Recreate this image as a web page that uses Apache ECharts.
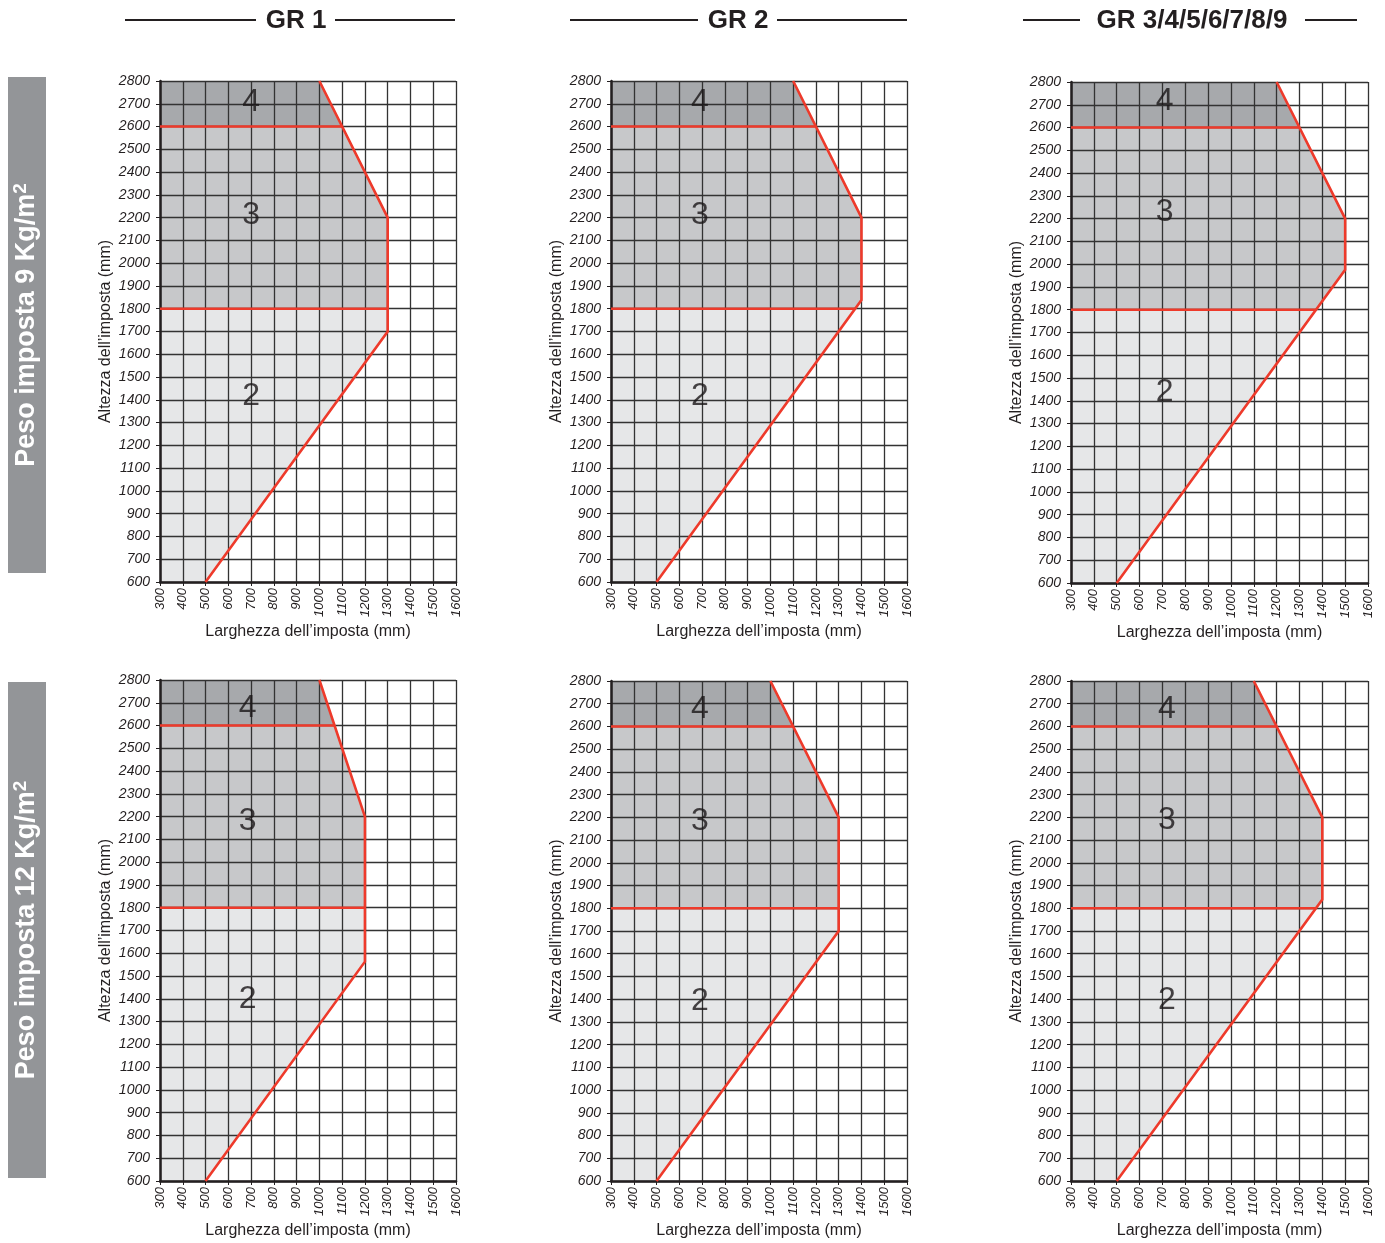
<!DOCTYPE html>
<html>
<head>
<meta charset="utf-8">
<script src="https://cdn.jsdelivr.net/npm/echarts@6/dist/echarts.min.js"></script>
<style>
  html, body { margin: 0; padding: 0; background: #fff; }
  #chart { width: 1385px; height: 1243px; }
</style>
</head>
<body>
<div id="chart"></div>
<script>
// --- testi ---
const groupTitles = ['GR 1', 'GR 2', 'GR 3/4/5/6/7/8/9'];
const rowTitles = ['Peso imposta 9 Kg/m', 'Peso imposta 12 Kg/m'];
const xName = 'Larghezza dell’imposta (mm)';
const yName = 'Altezza dell’imposta (mm)';

// --- assi ---
const xMin = 300, xMax = 1600;
const yMin = 600, yMax = 2800;
const tickStep = 100;
const bandLevels = [1800, 2600];   // limiti zona 2/3 e 3/4
const zoneNames = ['2', '3', '4'];

// --- bordo rosso di ogni grafico (larghezza, altezza in mm) ---
const edgeGr1At9  = [[500, 600], [1300, 1700], [1300, 2200], [1000, 2800]];
const edgeGr2At9  = [[500, 600], [1400, 1838], [1400, 2200], [1100, 2800]];
const edgeGr3At9  = [[500, 600], [1500, 1975], [1500, 2200], [1200, 2800]];
const edgeGr1At12 = [[500, 600], [1200, 1563], [1200, 2200], [1000, 2800]];
const edgeGr2At12 = [[500, 600], [1300, 1700], [1300, 2200], [1000, 2800]];
const edgeGr3At12 = [[500, 600], [1400, 1838], [1400, 2200], [1100, 2800]];

// larghezza dove le linee 1800 / 2600 toccano il bordo
const cutsGr1At9  = [1300, 1100];
const cutsGr2At9  = [1373, 1200];
const cutsGr3At9  = [1373, 1300];
const cutsGr1At12 = [1200, 1067];
const cutsGr2At12 = [1300, 1100];
const cutsGr3At12 = [1373, 1200];

// posizione delle etichette 2 / 3 / 4
const labelsGr1At9  = [[700, 1430], [700, 2225], [700, 2720]];
const labelsGr2At9  = [[690, 1430], [690, 2225], [690, 2720]];
const labelsGr3At9  = [[710, 1450], [710, 2240], [710, 2730]];
const labelsGr1At12 = [[685, 1410], [685, 2195], [685, 2690]];
const labelsGr2At12 = [[690, 1405], [690, 2195], [690, 2690]];
const labelsGr3At12 = [[720, 1410], [720, 2200], [720, 2690]];

const charts = [
  { edge: edgeGr1At9,  cuts: cutsGr1At9,  labels: labelsGr1At9,  box: [160, 81, 296, 501] },
  { edge: edgeGr2At9,  cuts: cutsGr2At9,  labels: labelsGr2At9,  box: [611, 81, 296, 501] },
  { edge: edgeGr3At9,  cuts: cutsGr3At9,  labels: labelsGr3At9,  box: [1071, 82, 297, 501] },
  { edge: edgeGr1At12, cuts: cutsGr1At12, labels: labelsGr1At12, box: [160, 680, 296, 501] },
  { edge: edgeGr2At12, cuts: cutsGr2At12, labels: labelsGr2At12, box: [611, 681, 296, 500] },
  { edge: edgeGr3At12, cuts: cutsGr3At12, labels: labelsGr3At12, box: [1071, 681, 297, 500] }
];

const zoneColors = ['#e6e7e8', '#c7c8ca', '#a7a9ac'];
const red = '#ee3a2b';
const ink = '#231f20';
const font = 'Liberation Sans, Arial, sans-serif';

const chart = echarts.init(document.getElementById('chart'), null, { renderer: 'canvas' });

const grid = [], xAxis = [], yAxis = [], series = [];
const plain = v => String(v);

charts.forEach((c, i) => {
  const [left, top, width, height] = c.box;
  grid.push({ left, top, width, height, containLabel: false });

  xAxis.push({
    type: 'value', gridIndex: i, min: xMin, max: xMax, interval: tickStep, z: 3,
    name: xName, nameLocation: 'middle', nameGap: 42,
    nameTextStyle: { fontFamily: font, fontSize: 16, color: ink },
    axisLine: { show: true, onZero: false, lineStyle: { color: ink, width: 2.5 } },
    axisTick: { show: true, length: 4, lineStyle: { color: ink } },
    axisLabel: { rotate: 90, margin: 6, formatter: plain, fontFamily: font, fontStyle: 'italic', fontSize: 13, color: ink },
    splitLine: { show: true, lineStyle: { color: '#333', width: 1.3 } }
  });

  yAxis.push({
    type: 'value', gridIndex: i, min: yMin, max: yMax, interval: tickStep, z: 3,
    name: yName, nameLocation: 'middle', nameGap: 46,
    nameTextStyle: { fontFamily: font, fontSize: 16, color: ink },
    axisLine: { show: true, onZero: false, lineStyle: { color: ink, width: 2.5 } },
    axisTick: { show: true, length: 4, lineStyle: { color: ink } },
    axisLabel: { margin: 10, formatter: plain, fontFamily: font, fontStyle: 'italic', fontSize: 14, color: ink },
    splitLine: { show: true, lineStyle: { color: '#333', width: 1.3 } }
  });

  // zone a partire dal bordo
  const [cutLow, cutHigh] = c.cuts;
  const [low, high] = bandLevels;
  const zones = [
    [[xMin, yMin], ...c.edge.filter(p => p[1] < low), [cutLow, low], [xMin, low]],
    [[xMin, low], [cutLow, low], ...c.edge.filter(p => p[1] > low && p[1] < high), [cutHigh, high], [xMin, high]],
    [[xMin, high], [cutHigh, high], ...c.edge.filter(p => p[1] > high), [xMin, yMax]]
  ];

  zones.forEach((pts, k) => {
    series.push({
      type: 'custom', xAxisIndex: i, yAxisIndex: i, z: 1, silent: true,
      data: pts,
      renderItem: (params, api) => {
        if (params.dataIndex !== 0) return null;
        return {
          type: 'polygon',
          shape: { points: pts.map(p => api.coord(p)) },
          style: { fill: zoneColors[k] }
        };
      }
    });
  });

  const redLine = (data) => ({
    type: 'line', xAxisIndex: i, yAxisIndex: i, z: 5, silent: true,
    data, symbol: 'none', animation: false,
    lineStyle: { color: red, width: 2.6, join: 'miter' }
  });
  series.push(redLine(c.edge));
  series.push(redLine([[xMin, low], [cutLow, low]]));
  series.push(redLine([[xMin, high], [cutHigh, high]]));

  series.push({
    type: 'scatter', xAxisIndex: i, yAxisIndex: i, z: 6, silent: true,
    symbolSize: 1, itemStyle: { color: 'rgba(0,0,0,0)' },
    data: c.labels.map((p, k) => ({ value: p, name: zoneNames[k] })),
    label: {
      show: true, position: 'inside', formatter: '{b}', offset: [0, 3],
      fontFamily: font, fontSize: 32, color: '#1a1718'
    }
  });
});

// titoli dei gruppi con le linee ai lati
const titleSpecs = [
  { cx: 296, lines: [[125, 256], [335, 455]] },
  { cx: 738, lines: [[570, 698], [777, 907]] },
  { cx: 1192, lines: [[1023, 1080], [1305, 1357]] }
];
const title = titleSpecs.map((t, i) => ({
  text: groupTitles[i], left: t.cx, top: 8, padding: 0, textAlign: 'center',
  textStyle: { fontFamily: font, fontSize: 26, fontWeight: 'bold', color: ink }
}));

const graphic = [];
titleSpecs.forEach(t => {
  t.lines.forEach(([x1, x2]) => {
    graphic.push({
      type: 'line', shape: { x1, y1: 20, x2, y2: 20 },
      style: { stroke: ink, lineWidth: 2 }
    });
  });
});

// fasce laterali grigie
[[77, 496], [682, 496]].forEach(([y, h], i) => {
  graphic.push({
    type: 'rect', shape: { x: 8, y, width: 38, height: h },
    style: { fill: '#939598' }
  });
  graphic.push({
    type: 'text', x: 27, y: y + h / 2, rotation: Math.PI / 2,
    style: {
      text: '{b|' + rowTitles[i] + '}{s|2}',
      align: 'center', verticalAlign: 'middle',
      rich: {
        b: { fontFamily: font, fontSize: 27, fontWeight: 'bold', fill: '#fff' },
        s: { fontFamily: font, fontSize: 19, fontWeight: 'bold', fill: '#fff', padding: [0, 0, 13, 0] }
      }
    }
  });
});

chart.setOption({
  animation: false,
  backgroundColor: '#fff',
  title, grid, xAxis, yAxis, series, graphic
});
</script>
</body>
</html>
